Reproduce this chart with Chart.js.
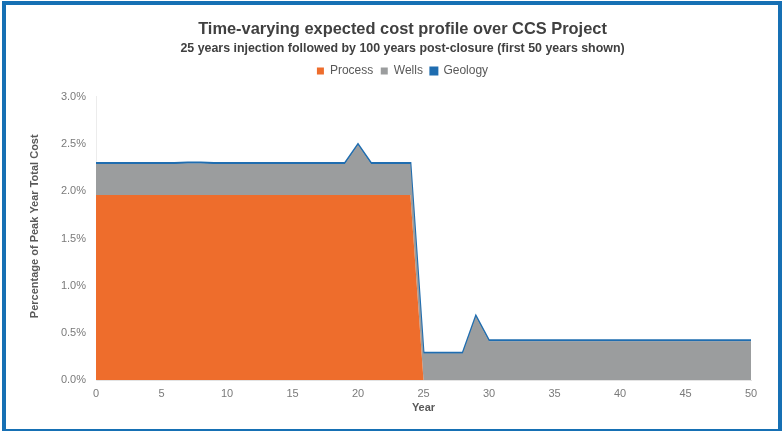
<!DOCTYPE html>
<html>
<head>
<meta charset="utf-8">
<script src="https://cdn.jsdelivr.net/npm/chart.js@4.4.1/dist/chart.umd.min.js"></script>
<style>
html,body{margin:0;padding:0;background:#ffffff;}
#wrap{position:relative;width:784px;height:431px;overflow:hidden;}
#frame{position:absolute;left:2px;top:1px;width:780px;height:432px;border:4px solid #1670B4;box-sizing:border-box;pointer-events:none;}
canvas{display:block;}
</style>
</head>
<body>
<div id="wrap">
  <canvas id="c" width="784" height="431" style="width:784px;height:431px"></canvas>
  <div id="frame"></div>
</div>
<script>
// ---- Data (percentage of peak year total cost) ----
const years = [0,1,2,3,4,5,6,7,8,9,10,11,12,13,14,15,16,17,18,19,20,21,22,23,24,25,26,27,28,29,30,31,32,33,34,35,36,37,38,39,40,41,42,43,44,45,46,47,48,49,50];
const processCost = [1.96,1.96,1.96,1.96,1.96,1.96,1.96,1.96,1.96,1.96,1.96,1.96,1.96,1.96,1.96,1.96,1.96,1.96,1.96,1.96,1.96,1.96,1.96,1.96,1.96,0,0,0,0,0,0,0,0,0,0,0,0,0,0,0,0,0,0,0,0,0,0,0,0,0,0];
const wellsCost = [0.33,0.33,0.33,0.33,0.33,0.33,0.33,0.335,0.335,0.33,0.33,0.33,0.33,0.33,0.33,0.33,0.33,0.33,0.33,0.33,0.53,0.33,0.33,0.33,0.33,0.28,0.28,0.28,0.28,0.67,0.41,0.41,0.41,0.41,0.41,0.41,0.41,0.41,0.41,0.41,0.41,0.41,0.41,0.41,0.41,0.41,0.41,0.41,0.41,0.41,0.41];
const geologyCost = [0.01,0.01,0.01,0.01,0.01,0.01,0.01,0.01,0.01,0.01,0.01,0.01,0.01,0.01,0.01,0.01,0.01,0.01,0.01,0.01,0.01,0.01,0.01,0.01,0.01,0.01,0.01,0.01,0.01,0.01,0.01,0.01,0.01,0.01,0.01,0.01,0.01,0.01,0.01,0.01,0.01,0.01,0.01,0.01,0.01,0.01,0.01,0.01,0.01,0.01,0.01];
const seriesNames = ['Process','Wells','Geology'];
const xTickValues = [0,5,10,15,20,25,30,35,40,45,50];
const yTickValues = [0,0.5,1.0,1.5,2.0,2.5,3.0];

const toPoints = arr => years.map((yr,i) => ({x: yr, y: arr[i]}));

Chart.defaults.font.family = '"Liberation Sans", Arial, Helvetica, sans-serif';

const tweakPlugin = {
  id: 'tweak',
  afterInit(chart) {
    const lg = chart.legend;
    if (lg && !lg._patched) {
      const f = lg.fit;
      lg.fit = function() { f.call(this); this.height += 10; };
      lg._patched = true;
    }
  },
  afterLayout(chart) {
    chart.boxes.forEach(b => {
      if (b.position === 'top') { b.left += 27; b.right += 27; }
    });
  }
};

new Chart(document.getElementById('c'), {
  type: 'line',
  data: {
    datasets: [
      {
        label: seriesNames[0],
        data: toPoints(processCost),
        backgroundColor: '#EE6D2C',
        borderColor: '#EE6D2C',
        borderWidth: 0,
        fill: 'origin',
        pointRadius: 0,
        tension: 0
      },
      {
        label: seriesNames[1],
        data: toPoints(wellsCost),
        backgroundColor: '#9B9D9E',
        borderColor: '#9B9D9E',
        borderWidth: 0,
        fill: '-1',
        pointRadius: 0,
        tension: 0
      },
      {
        label: seriesNames[2],
        data: toPoints(geologyCost),
        backgroundColor: '#1F6DB0',
        borderColor: '#1F6DB0',
        borderWidth: 2,
        fill: '-1',
        pointRadius: 0,
        tension: 0
      }
    ]
  },
  options: {
    responsive: false,
    animation: false,
    layout: { padding: { left: 0, right: 33, top: 0, bottom: 0 } },
    plugins: {
      title: {
        display: true,
        text: 'Time-varying expected cost profile over CCS Project',
        color: '#404040',
        font: { size: 16.4, weight: 'bold' },
        padding: { top: 19.2, bottom: 0 }
      },
      subtitle: {
        display: true,
        text: '25 years injection followed by 100 years post-closure (first 50 years shown)',
        color: '#404040',
        font: { size: 12.4, weight: 'bold' },
        padding: { top: 2.2, bottom: 1.5 }
      },
      legend: {
        display: true,
        position: 'top',
        labels: {
          color: '#595959',
          font: { size: 12 },
          boxWidth: 7,
          boxHeight: 7,
          padding: 7.5
        }
      },
      tooltip: { enabled: false }
    },
    scales: {
      x: {
        type: 'linear',
        min: 0,
        max: 50,
        afterBuildTicks: s => { s.ticks = xTickValues.map(v => ({ value: v })); },
        afterFit: s => { s.height = 51; },
        grid: { display: false, drawTicks: false },
        border: { display: true, color: '#e3e3e3', width: 1 },
        ticks: {
          color: '#7a7a7a',
          font: { size: 11 },
          padding: 7.5,
          maxRotation: 0,
          autoSkip: false,
          callback: v => String(v)
        },
        title: {
          display: true,
          text: 'Year',
          color: '#595959',
          font: { size: 11, weight: 'bold' },
          padding: { top: 0, bottom: 16.5 }
        }
      },
      y: {
        stacked: true,
        min: 0,
        max: 3,
        afterBuildTicks: s => { s.ticks = yTickValues.map(v => ({ value: v })); },
        afterFit: s => { s.width = 96; },
        grid: { display: false, drawTicks: false },
        border: { display: true, color: '#ececec', width: 1 },
        ticks: {
          color: '#7a7a7a',
          font: { size: 11 },
          padding: 10,
          callback: v => Number(v).toFixed(1) + '%'
        },
        title: {
          display: true,
          text: '        Percentage of Peak Year Total Cost',
          color: '#595959',
          font: { size: 11, weight: 'bold' },
          padding: { top: 28.4, bottom: 0 }
        }
      }
    }
  },
  plugins: [tweakPlugin]
});
</script>
</body>
</html>
